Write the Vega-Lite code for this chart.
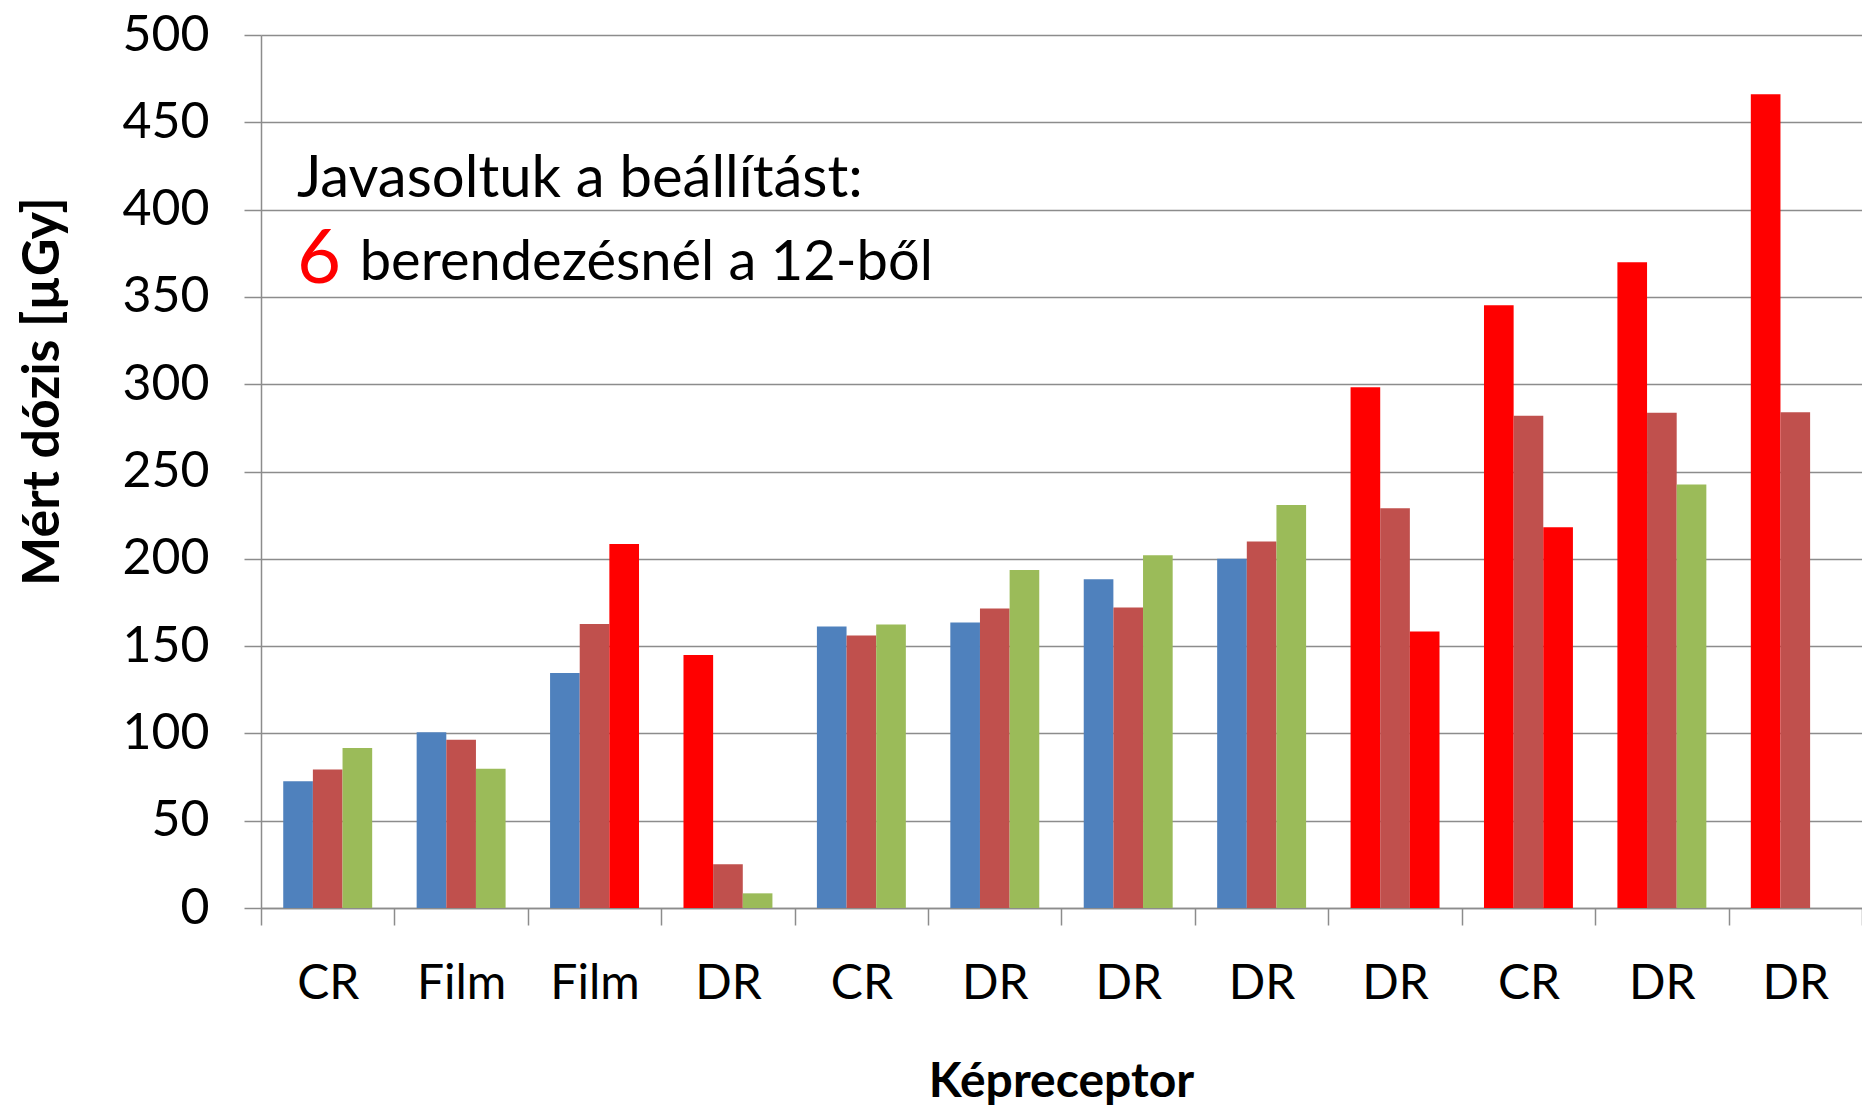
{
  "$schema": "https://vega.github.io/schema/vega-lite/v6.json",
  "width": 1601,
  "height": 873,
  "autosize": {"type": "none"},
  "padding": {"left": 261, "top": 35, "right": 0, "bottom": 199},
  "background": "white",
  "config": {
    "view": {"stroke": null},
    "font": "Lato",
    "axis": {
      "domainColor": "#8c8c8c",
      "domainWidth": 1.5,
      "tickColor": "#8c8c8c",
      "tickWidth": 1.5,
      "gridColor": "#8c8c8c",
      "gridWidth": 1.5,
      "labelColor": "black",
      "titleColor": "black",
      "labelFont": "Lato",
      "titleFont": "Lato"
    }
  },
  "layer": [
    {
      "data": {
        "values": [
          {"keszulek": "1. CR", "sorozat": "A", "dozis": 72.6, "kiemelt": false},
          {"keszulek": "1. CR", "sorozat": "B", "dozis": 79.3, "kiemelt": false},
          {"keszulek": "1. CR", "sorozat": "C", "dozis": 91.6, "kiemelt": false},
          {"keszulek": "2. Film", "sorozat": "A", "dozis": 100.6, "kiemelt": false},
          {"keszulek": "2. Film", "sorozat": "B", "dozis": 96.4, "kiemelt": false},
          {"keszulek": "2. Film", "sorozat": "C", "dozis": 79.8, "kiemelt": false},
          {"keszulek": "3. Film", "sorozat": "A", "dozis": 134.6, "kiemelt": false},
          {"keszulek": "3. Film", "sorozat": "B", "dozis": 162.7, "kiemelt": false},
          {"keszulek": "3. Film", "sorozat": "C", "dozis": 208.5, "kiemelt": true},
          {"keszulek": "4. DR", "sorozat": "A", "dozis": 144.9, "kiemelt": true},
          {"keszulek": "4. DR", "sorozat": "B", "dozis": 25.0, "kiemelt": false},
          {"keszulek": "4. DR", "sorozat": "C", "dozis": 8.4, "kiemelt": false},
          {"keszulek": "5. CR", "sorozat": "A", "dozis": 161.2, "kiemelt": false},
          {"keszulek": "5. CR", "sorozat": "B", "dozis": 156.0, "kiemelt": false},
          {"keszulek": "5. CR", "sorozat": "C", "dozis": 162.3, "kiemelt": false},
          {"keszulek": "6. DR", "sorozat": "A", "dozis": 163.5, "kiemelt": false},
          {"keszulek": "6. DR", "sorozat": "B", "dozis": 171.5, "kiemelt": false},
          {"keszulek": "6. DR", "sorozat": "C", "dozis": 193.6, "kiemelt": false},
          {"keszulek": "7. DR", "sorozat": "A", "dozis": 188.3, "kiemelt": false},
          {"keszulek": "7. DR", "sorozat": "B", "dozis": 172.1, "kiemelt": false},
          {"keszulek": "7. DR", "sorozat": "C", "dozis": 202.1, "kiemelt": false},
          {"keszulek": "8. DR", "sorozat": "A", "dozis": 200.1, "kiemelt": false},
          {"keszulek": "8. DR", "sorozat": "B", "dozis": 209.9, "kiemelt": false},
          {"keszulek": "8. DR", "sorozat": "C", "dozis": 230.8, "kiemelt": false},
          {"keszulek": "9. DR", "sorozat": "A", "dozis": 298.3, "kiemelt": true},
          {"keszulek": "9. DR", "sorozat": "B", "dozis": 228.9, "kiemelt": false},
          {"keszulek": "9. DR", "sorozat": "C", "dozis": 158.3, "kiemelt": true},
          {"keszulek": "10. CR", "sorozat": "A", "dozis": 345.2, "kiemelt": true},
          {"keszulek": "10. CR", "sorozat": "B", "dozis": 282.0, "kiemelt": false},
          {"keszulek": "10. CR", "sorozat": "C", "dozis": 218.0, "kiemelt": true},
          {"keszulek": "11. DR", "sorozat": "A", "dozis": 369.8, "kiemelt": true},
          {"keszulek": "11. DR", "sorozat": "B", "dozis": 283.7, "kiemelt": false},
          {"keszulek": "11. DR", "sorozat": "C", "dozis": 242.5, "kiemelt": false},
          {"keszulek": "12. DR", "sorozat": "A", "dozis": 466.0, "kiemelt": true},
          {"keszulek": "12. DR", "sorozat": "B", "dozis": 283.9, "kiemelt": false}
        ]
      },
      "mark": {"type": "bar"},
      "encoding": {
        "x": {
          "field": "keszulek",
          "type": "nominal",
          "sort": null,
          "scale": {
            "domain": ["1. CR", "2. Film", "3. Film", "4. DR", "5. CR", "6. DR", "7. DR", "8. DR", "9. DR", "10. CR", "11. DR", "12. DR"],
            "paddingInner": 0,
            "paddingOuter": 0
          },
          "axis": {
            "title": "Képreceptor",
            "labelExpr": "split(datum.value, '. ')[1]",
            "labelAngle": 0,
            "tickBand": "extent",
            "tickSize": 17,
            "labelPadding": 35,
            "labelFontSize": 48,
            "labelBaseline": "top",
            "titleFontSize": 48,
            "titleFontWeight": "bold",
            "titleX": 800,
            "titleY": 174,
            "titleBaseline": "middle",
            "titleAnchor": null
          }
        },
        "xOffset": {
          "field": "sorozat",
          "type": "nominal",
          "scale": {"domain": ["A", "B", "C"], "paddingInner": 0, "paddingOuter": 0.75}
        },
        "y": {
          "field": "dozis",
          "type": "quantitative",
          "scale": {"domain": [0, 500], "nice": false},
          "axis": {
            "title": "Mért dózis [µGy]",
            "values": [0, 50, 100, 150, 200, 250, 300, 350, 400, 450, 500],
            "grid": true,
            "tickSize": 17,
            "labelPadding": 35,
            "labelFontSize": 50,
            "titleFontSize": 52,
            "titleFontWeight": "bold",
            "titleX": -219,
            "titleY": 356,
            "titleBaseline": "middle",
            "titleAlign": "center",
            "titleAngle": -90
          }
        },
        "color": {
          "condition": {"test": "datum.kiemelt", "value": "#FF0000"},
          "field": "sorozat",
          "type": "nominal",
          "scale": {"domain": ["A", "B", "C"], "range": ["#4F81BD", "#C0504D", "#9BBB59"]},
          "legend": null
        }
      }
    },
    {
      "data": {"values": [{"szoveg": "Javasoltuk a beállítást:"}]},
      "mark": {"type": "text", "align": "left", "baseline": "alphabetic", "fontSize": 58, "color": "black", "font": "Lato"},
      "encoding": {
        "x": {"datum": "1. CR", "bandPosition": 0.27},
        "y": {"datum": 407, "type": "quantitative"},
        "text": {"field": "szoveg"}
      }
    },
    {
      "data": {"values": [{"szoveg": "6"}]},
      "mark": {"type": "text", "align": "left", "baseline": "alphabetic", "fontSize": 76, "color": "#FF0000", "font": "Lato"},
      "encoding": {
        "x": {"datum": "1. CR", "bandPosition": 0.27},
        "y": {"datum": 357.8, "type": "quantitative"},
        "text": {"field": "szoveg"}
      }
    },
    {
      "data": {"values": [{"szoveg": "berendezésnél a 12-ből"}]},
      "mark": {"type": "text", "align": "left", "baseline": "alphabetic", "fontSize": 56, "color": "black", "font": "Lato"},
      "encoding": {
        "x": {"datum": "1. CR", "bandPosition": 0.74},
        "y": {"datum": 359.5, "type": "quantitative"},
        "text": {"field": "szoveg"}
      }
    }
  ]
}
